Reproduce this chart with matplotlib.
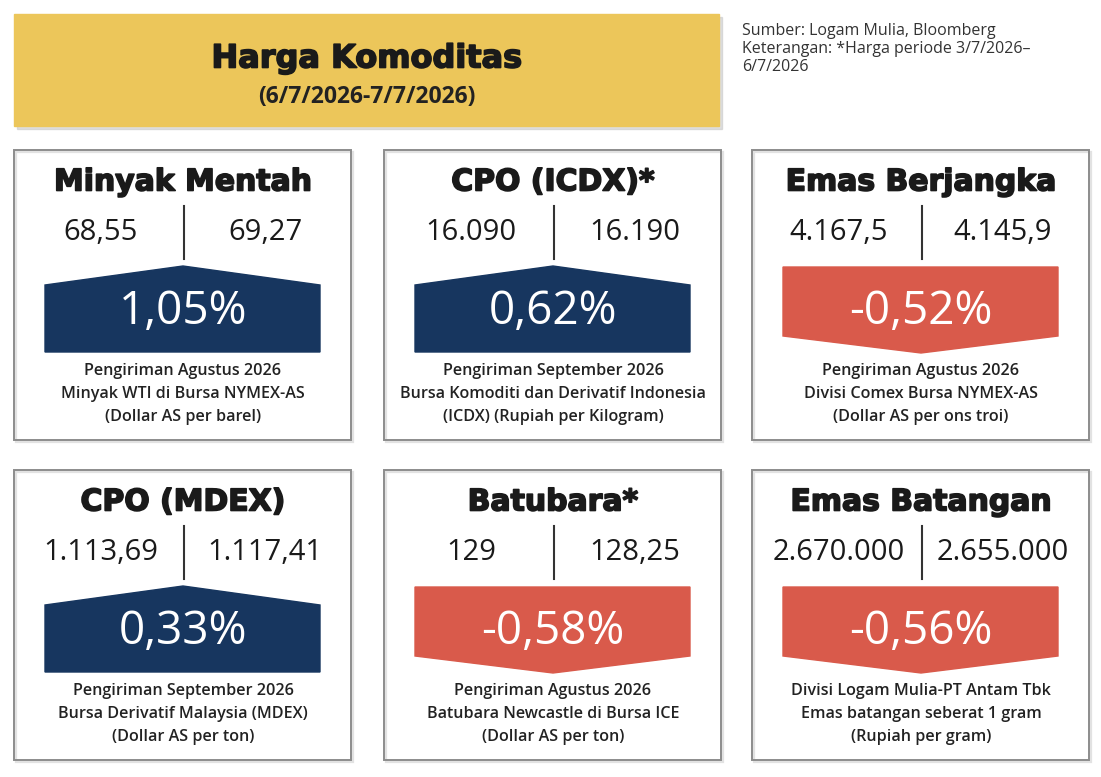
import matplotlib.pyplot as plt
import matplotlib.patheffects as pe
from matplotlib.patches import Polygon, Rectangle

# data
names = ['Minyak Mentah', 'CPO (ICDX)*', 'Emas Berjangka',
         'CPO (MDEX)', 'Batubara*', 'Emas Batangan']
price_before = ['68,55', '16.090', '4.167,5', '1.113,69', '129', '2.670.000']
price_after = ['69,27', '16.190', '4.145,9', '1.117,41', '128,25', '2.655.000']
change_pct = [1.05, 0.62, -0.52, 0.33, -0.58, -0.56]
notes = [
    ['Pengiriman Agustus 2026', 'Minyak WTI di Bursa NYMEX-AS', '(Dollar AS per barel)'],
    ['Pengiriman September 2026', 'Bursa Komoditi dan Derivatif Indonesia', '(ICDX) (Rupiah per Kilogram)'],
    ['Pengiriman Agustus 2026', 'Divisi Comex Bursa NYMEX-AS', '(Dollar AS per ons troi)'],
    ['Pengiriman September 2026', 'Bursa Derivatif Malaysia (MDEX)', '(Dollar AS per ton)'],
    ['Pengiriman Agustus 2026', 'Batubara Newcastle di Bursa ICE', '(Dollar AS per ton)'],
    ['Divisi Logam Mulia-PT Antam Tbk', 'Emas batangan seberat 1 gram', '(Rupiah per gram)'],
]
header_title = 'Harga Komoditas'
header_period = '(6/7/2026-7/7/2026)'
source_lines = ['Sumber: Logam Mulia, Bloomberg',
                'Keterangan: *Harga periode 3/7/2026\u2013',
                '6/7/2026']

UP = '#17365f'
DOWN = '#d95a4b'
YELLOW = '#ecc65a'

fig = plt.figure(figsize=(11.01, 7.77), dpi=100)
ax = fig.add_axes([0, 0, 1, 1])
ax.set_xlim(0, 1101)
ax.set_ylim(777, 0)
ax.axis('off')

heavy = [pe.withStroke(linewidth=1.2, foreground='#1a1a1a')]

# header banner with a soft shadow
ax.add_patch(Rectangle((17, 17), 705, 112, color='#c8c8c8', alpha=0.6, zorder=1))
ax.add_patch(Rectangle((14, 14), 705, 112, color=YELLOW, zorder=2))
ax.text(367, 59, header_title, ha='center', va='center', fontsize=23,
        fontweight='bold', family='DejaVu Sans', color='#1a1a1a', zorder=3,
        path_effects=heavy)
ax.text(367, 97, header_period, ha='center', va='center', fontsize=16.5,
        fontweight='bold', family='Open Sans', color='#222222', zorder=3)
for i, line in enumerate(source_lines):
    ax.text(742, 31 + i * 18, line, ha='left', va='center', fontsize=11.5,
            family='Open Sans', color='#333333')

panel_x = [14, 384, 752]
panel_y = [150, 470]
pw, ph = 337, 290

for k, name in enumerate(names):
    x0 = panel_x[k % 3]
    y0 = panel_y[k // 3]
    cx = x0 + 169
    ax.add_patch(Rectangle((x0 + 2, y0 + 2), pw, ph, fill=False, ec='#e2e2e2', lw=1.6))
    ax.add_patch(Rectangle((x0, y0), pw, ph, fill=False, ec='#8c8c8c', lw=1.4))
    ax.text(cx, y0 + 32, name, ha='center', va='center', fontsize=21.5,
            fontweight='bold', family='DejaVu Sans', color='#1a1a1a',
            path_effects=heavy)
    ax.plot([x0 + 170, x0 + 170], [y0 + 56, y0 + 109], color='#333333', lw=1.5)
    ax.text(x0 + 87, y0 + 83, price_before[k], ha='center', va='center',
            fontsize=21, family='Open Sans', color='#1a1a1a')
    ax.text(x0 + 251, y0 + 83, price_after[k], ha='center', va='center',
            fontsize=21, family='Open Sans', color='#1a1a1a')

    v = change_pct[k]
    left, right = x0 + 31, x0 + pw - 31
    if v >= 0:
        pts = [(left, y0 + 135), (cx, y0 + 116), (right, y0 + 135),
               (right, y0 + 202), (left, y0 + 202)]
        col = UP
    else:
        pts = [(left, y0 + 117), (right, y0 + 117), (right, y0 + 186),
               (cx, y0 + 203), (left, y0 + 186)]
        col = DOWN
    ax.add_patch(Polygon(pts, closed=True, color=col))
    label = f'{v:.2f}'.replace('.', ',') + '%'
    ax.text(cx, y0 + 162, label, ha='center', va='center', fontsize=33,
            family='Open Sans', color='white')

    for j, line in enumerate(notes[k]):
        ax.text(cx, y0 + 221 + j * 23, line, ha='center', va='center',
                fontsize=11.6, fontweight='semibold', family='Open Sans',
                color='#222222')

fig.savefig('out.png', dpi=100)
